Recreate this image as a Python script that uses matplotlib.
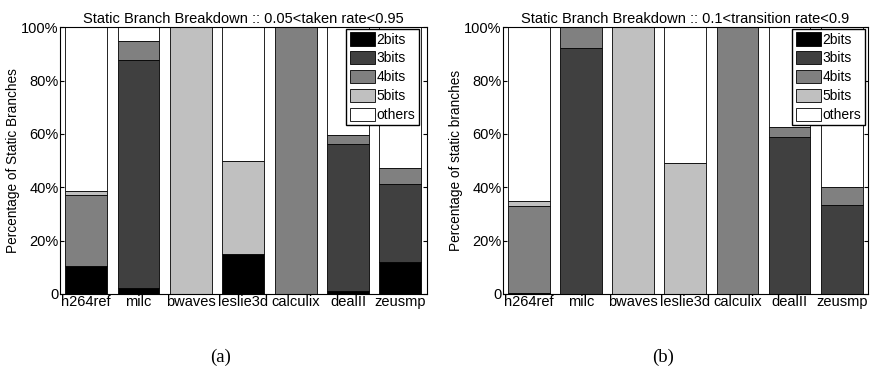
import numpy as np
import matplotlib.pyplot as plt

benchmarks = ['h264ref', 'milc', 'bwaves', 'leslie3d', 'calculix', 'dealII', 'zeusmp']
categories = ['2bits', '3bits', '4bits', '5bits', 'others']
colors = ['#000000', '#404040', '#808080', '#c0c0c0', '#ffffff']

# (a) 0.05 < taken rate < 0.95  -- percentages per bucket
taken_2bits = [10.3, 2.1, 0.0, 14.9, 0.0, 0.9, 11.8]
taken_3bits = [0.3, 85.7, 0.0, 0.0, 0.0, 55.3, 29.4]
taken_4bits = [26.3, 7.0, 0.0, 0.0, 100.0, 3.5, 5.9]
taken_5bits = [1.5, 0.0, 100.0, 35.0, 0.0, 0.0, 0.0]

# (b) 0.1 < transition rate < 0.9
trans_2bits = [0.5, 0.0, 0.0, 0.0, 0.0, 0.0, 0.0]
trans_3bits = [0.0, 92.3, 0.0, 0.0, 0.0, 58.9, 33.4]
trans_4bits = [32.5, 7.7, 0.0, 0.0, 100.0, 3.5, 6.6]
trans_5bits = [1.7, 0.0, 100.0, 49.2, 0.0, 0.0, 0.0]


def with_others(*parts):
    s = np.sum(parts, axis=0)
    return list(parts) + [np.clip(100 - s, 0, None)]


plt.rcParams['font.family'] = ['Liberation Sans', 'DejaVu Sans']

fig = plt.figure(figsize=(8.73, 3.72), dpi=100)
ax_a = fig.add_axes([0.0687, 0.210, 0.420, 0.717])
ax_b = fig.add_axes([0.576, 0.210, 0.418, 0.717])

panels = [
    (ax_a, with_others(taken_2bits, taken_3bits, taken_4bits, taken_5bits),
     'Static Branch Breakdown :: 0.05<taken rate<0.95', 'Percentage of Static Branches',
     (0.979, 0.994)),
    (ax_b, with_others(trans_2bits, trans_3bits, trans_4bits, trans_5bits),
     'Static Branch Breakdown :: 0.1<transition rate<0.9', 'Percentage of static branches',
     (0.992, 0.994)),
]

x = np.arange(1, len(benchmarks) + 1)
for ax, parts, title, ylabel, anchor in panels:
    bottom = np.zeros(len(benchmarks))
    for vals, col, lab in zip(parts, colors, categories):
        vals = np.asarray(vals, dtype=float)
        ax.bar(x, vals, 0.8, bottom=bottom, color=col, edgecolor='black',
               linewidth=0.6, label=lab)
        bottom += vals
    ax.set_xlim(0.5, len(benchmarks) + 0.5)
    ax.set_ylim(0, 100)
    ax.set_xticks(x)
    ax.set_xticklabels(benchmarks, fontsize=10.5)
    ax.set_yticks([0, 20, 40, 60, 80, 100])
    ax.set_yticklabels(['0', '20%', '40%', '60%', '80%', '100%'], fontsize=10.5)
    ax.tick_params(axis='y', direction='in', right=True, length=3, pad=1)
    ax.tick_params(axis='x', length=0, pad=1)
    ax.set_title(title, fontsize=10.5, pad=3)
    ax.set_ylabel(ylabel, fontsize=9.8, labelpad=1)
    ax.legend(loc='upper right', bbox_to_anchor=anchor, fontsize=10,
              frameon=True, fancybox=False, edgecolor='black', framealpha=1,
              handlelength=1.8, handleheight=1.1, handletextpad=0.15,
              labelspacing=0.32, borderpad=0.25, borderaxespad=0.0)

fig.text(0.253, 0.04, '(a)', family=['Liberation Serif', 'DejaVu Serif'],
         fontsize=13.5, ha='center', va='center')
fig.text(0.759, 0.04, '(b)', family=['Liberation Serif', 'DejaVu Serif'],
         fontsize=13.5, ha='center', va='center')

fig.savefig('out.png', dpi=100)
